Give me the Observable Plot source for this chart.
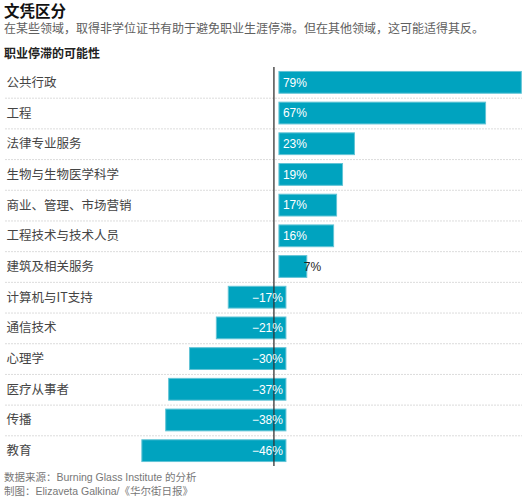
<!DOCTYPE html>
<html>
<head>
<meta charset="utf-8">
<script src="https://cdn.jsdelivr.net/npm/d3@7"></script>
<script src="https://cdn.jsdelivr.net/npm/@observablehq/plot@0.6"></script>
<style>
  html, body { margin: 0; padding: 0; background: #fff; }
  body { width: 526px; font-family: "Liberation Sans", "Noto Sans CJK SC", sans-serif; }
  .title { font-family: "Noto Sans CJK SC", sans-serif; font-weight: bold; font-size: 15.5px; line-height: 20px; color: #111; padding-left: 4px; }
  .subtitle { font-family: "Noto Sans CJK SC", sans-serif; font-size: 12px; line-height: 15px; color: #606060; padding-left: 4px; }
  .label { font-family: "Noto Sans CJK SC", sans-serif; font-weight: bold; font-size: 12px; line-height: 16px; color: #222; padding-left: 4px; margin-top: 9.5px; margin-bottom: 6.5px; }
  .footer { font-size: 10.5px; line-height: 14px; color: #777; padding-left: 4px; margin-top: 4px; }
  svg { display: block; }
</style>
</head>
<body>
<div class="title">文凭区分</div>
<div class="subtitle">在某些领域，取得非学位证书有助于避免职业生涯停滞。但在其他领域，这可能适得其反。</div>
<div class="label">职业停滞的可能性</div>
<div id="chart"></div>
<div class="footer">数据来源：Burning Glass Institute 的分析<br>制图：Elizaveta Galkina/《华尔街日报》</div>
<script>
const categories = ["公共行政", "工程", "法律专业服务", "生物与生物医学科学", "商业、管理、市场营销", "工程技术与技术人员", "建筑及相关服务", "计算机与IT支持", "通信技术", "心理学", "医疗从事者", "传播", "教育"];
const values = [79, 67, 23, 19, 17, 16, 7, -17, -21, -30, -37, -38, -46];

const data = categories.map((c, i) => ({category: c, value: values[i]}));
const fmt = v => d3.format("d")(v) + "%";

const H = 399, n = categories.length, pIn = 0.29, pOut = 0.145;
const step = H / (n - pIn + 2 * pOut);

const chart = Plot.plot({
  width: 526,
  height: H,
  marginTop: 0,
  marginBottom: 0,
  marginLeft: 5,
  marginRight: 4,
  style: {fontFamily: "'Liberation Sans', 'Noto Sans CJK SC', sans-serif", background: "transparent"},
  x: {domain: [-93.1, 80.4], axis: null},
  y: {domain: categories, axis: null, paddingInner: pIn, paddingOuter: pOut, round: false},
  marks: [
    Plot.ruleY(categories.slice(1), {y: d => d, dy: -step / 2, stroke: "#dcdcdc", strokeDasharray: "2,1"}),
    Plot.barX(data, {x: "value", y: "category", fill: "#00a3bf", stroke: "#62c4d6", strokeWidth: 1, insetLeft: -3.5, insetRight: -3.5}),
    Plot.ruleX([0], {dx: -9, stroke: "#333", strokeWidth: 1.3}),
    Plot.text(data, {y: "category", text: "category", frameAnchor: "left", textAnchor: "start", dx: 1, fontSize: 12.5, fill: "#444", fontFamily: "'Noto Sans CJK SC', sans-serif"}),
    Plot.text(data.filter(d => d.value >= 10), {x: 0, y: "category", text: d => fmt(d.value), textAnchor: "start", fill: "#fff", fontSize: 12}),
    Plot.text(data.filter(d => d.value >= 0 && d.value < 10), {x: "value", y: "category", text: d => fmt(d.value), textAnchor: "start", fill: "#222", fontSize: 12}),
    Plot.text(data.filter(d => d.value < 0), {x: 0, y: "category", text: d => fmt(d.value), textAnchor: "end", fill: "#fff", fontSize: 12})
  ]
});
document.getElementById("chart").appendChild(chart);
</script>
</body>
</html>
